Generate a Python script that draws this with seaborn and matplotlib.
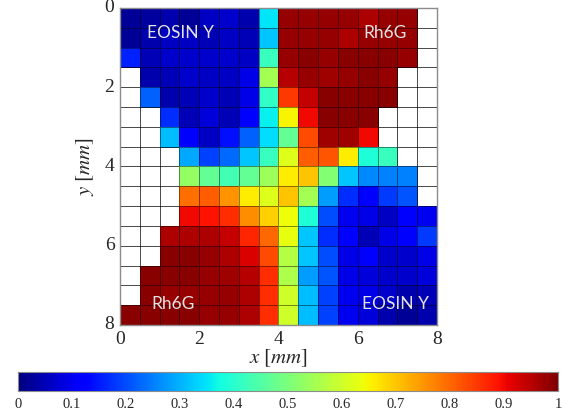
import numpy as np
import pandas as pd
import matplotlib
matplotlib.use("Agg")
import matplotlib.pyplot as plt
import seaborn as sns

N = np.nan
# normalized concentration per 0.5 mm cell (rows: y from 0 to 8 mm, cols: x from 0 to 8 mm)
row00 = [0.02, 0.03, 0.04, 0.02, 0.06, 0.07, 0.04, 0.35, 0.98, 0.98, 0.98, 0.98, 0.96, 0.98, 0.98, N]
row01 = [0.02, 0.04, 0.06, 0.06, 0.05, 0.06, 0.05, 0.32, 0.98, 0.98, 0.98, 0.96, 0.98, 0.98, 0.98, N]
row02 = [0.16, 0.05, 0.07, 0.07, 0.07, 0.07, 0.06, 0.42, 0.98, 0.99, 0.98, 0.99, 0.99, 0.99, 0.98, N]
row03 = [N, 0.04, 0.05, 0.07, 0.06, 0.06, 0.09, 0.55, 0.95, 0.98, 0.97, 0.98, 0.99, 0.98, N, N]
row04 = [N, 0.22, 0.04, 0.05, 0.07, 0.05, 0.09, 0.41, 0.85, 0.94, 0.99, 0.99, 0.99, 0.99, N, N]
row05 = [N, N, 0.17, 0.05, 0.08, 0.05, 0.12, 0.36, 0.65, 0.90, 0.99, 0.99, 0.99, N, N, N]
row06 = [N, N, 0.31, 0.12, 0.06, 0.14, 0.22, 0.34, 0.47, 0.83, 0.97, 0.97, 0.90, N, N, N]
row07 = [N, N, N, 0.29, 0.19, 0.23, 0.32, 0.42, 0.62, 0.81, 0.82, 0.66, 0.39, 0.42, N, N]
row08 = [N, N, N, 0.53, 0.47, 0.43, 0.47, 0.54, 0.66, 0.70, 0.51, 0.32, 0.26, 0.25, 0.25, N]
row09 = [N, N, N, 0.79, 0.81, 0.75, 0.66, 0.62, 0.70, 0.55, 0.28, 0.17, 0.12, 0.18, 0.21, N]
row10 = [N, N, N, 0.90, 0.89, 0.86, 0.76, 0.69, 0.64, 0.39, 0.20, 0.10, 0.09, 0.06, 0.12, 0.10]
row11 = [N, N, 0.96, 0.96, 0.96, 0.94, 0.87, 0.80, 0.63, 0.32, 0.17, 0.11, 0.05, 0.09, 0.12, 0.18]
row12 = [N, N, 0.99, 0.99, 0.98, 0.96, 0.92, 0.83, 0.57, 0.32, 0.20, 0.09, 0.12, 0.07, 0.07, 0.09]
row13 = [N, 0.99, 0.99, 0.99, 0.98, 0.97, 0.95, 0.86, 0.56, 0.28, 0.21, 0.09, 0.08, 0.07, 0.07, 0.08]
row14 = [N, 0.99, 0.98, 0.98, 0.98, 0.98, 0.96, 0.86, 0.60, 0.31, 0.19, 0.10, 0.09, 0.07, 0.04, 0.05]
row15 = [0.99, 0.99, 0.99, 0.99, 0.98, 0.98, 0.96, 0.86, 0.60, 0.31, 0.19, 0.10, 0.08, 0.04, 0.02, 0.04]

x_ticklabels = ["0", "2", "4", "6", "8"]
y_ticklabels = ["0", "2", "4", "6", "8"]
cbar_ticks = [0, 0.1, 0.2, 0.3, 0.4, 0.5, 0.6, 0.7, 0.8, 0.9, 1]
cbar_ticklabels = ["0", "0.1", "0.2", "0.3", "0.4", "0.5", "0.6", "0.7", "0.8", "0.9", "1"]
labels = ["EOSIN Y", "Rh6G", "Rh6G", "EOSIN Y"]
label_x = [3.03, 13.36, 2.68, 13.89]
label_y = [1.25, 1.25, 14.95, 14.95]

data = np.array([row00, row01, row02, row03, row04, row05, row06, row07,
                 row08, row09, row10, row11, row12, row13, row14, row15])
df = pd.DataFrame(data)

sns.set_style("white")
plt.rcParams["font.family"] = ["Liberation Serif", "DejaVu Serif"]
plt.rcParams["mathtext.fontset"] = "stix"

fig = plt.figure(figsize=(5.62, 4.12), dpi=100)
ax = fig.add_axes([0.2135, 0.2112, 0.564, 0.7694])
cax = fig.add_axes([0.032, 0.051, 0.961, 0.046])

sns.heatmap(df, ax=ax, cmap="jet", vmin=0, vmax=1, mask=df.isna(),
            linewidths=0.6, linecolor=(0, 0, 0, 0.45), square=False,
            cbar=True, cbar_ax=cax,
            cbar_kws={"orientation": "horizontal", "ticks": cbar_ticks})

ax.set_xticks(np.arange(0, 17, 4))
ax.set_xticklabels(x_ticklabels, rotation=0, fontsize=14)
ax.set_yticks(np.arange(0, 17, 4))
ax.set_yticklabels(y_ticklabels, rotation=0, fontsize=14)
ax.tick_params(axis="both", length=0, pad=4)
ax.set_xlabel(r"$x\ [mm]$", fontsize=15, labelpad=0)
ax.set_ylabel(r"$y\ [mm]$", fontsize=15, labelpad=6)
for s in ax.spines.values():
    s.set_visible(True)
    s.set_color("#8c8c8c")
    s.set_linewidth(1)

for t, xx, yy in zip(labels, label_x, label_y):
    ax.text(xx, yy, t, color="#e4e4e4", fontsize=12.5, ha="center", va="center",
            family=["Lato", "DejaVu Sans"], fontweight="normal")

cax.tick_params(axis="x", direction="in", length=3, labelsize=10.5, pad=5,
                color="#555555")
cax.set_xticklabels(cbar_ticklabels)
cax.xaxis.set_ticks_position("bottom")
for s in cax.spines.values():
    s.set_visible(True)
    s.set_color("#8c8c8c")

fig.savefig("out.png", dpi=100)
